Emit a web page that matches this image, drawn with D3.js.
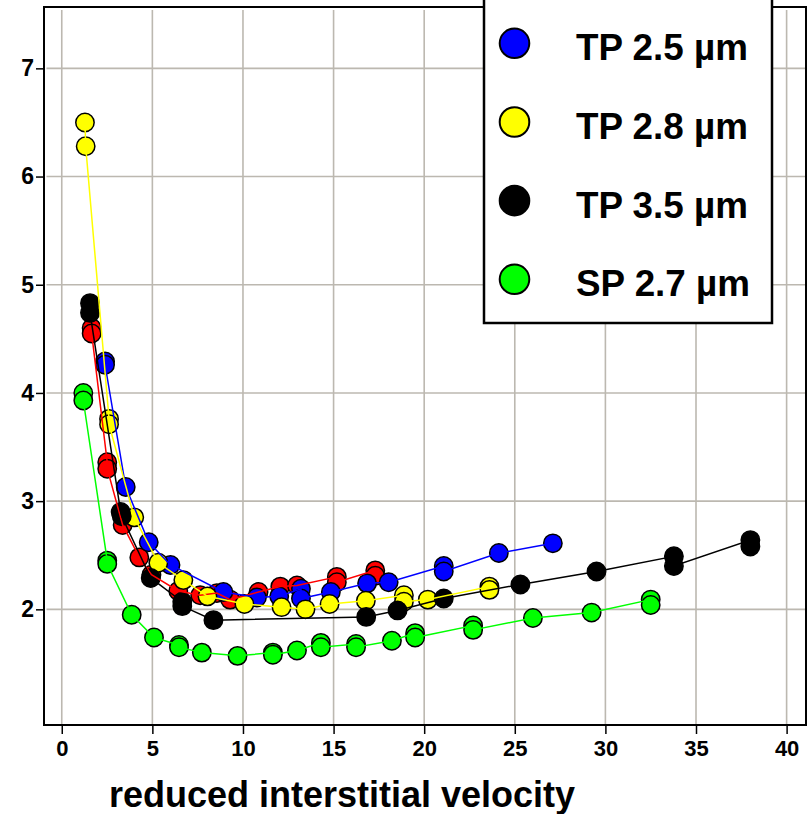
<!DOCTYPE html>
<html>
<head>
<meta charset="utf-8">
<script src="https://cdn.jsdelivr.net/npm/d3@7"></script>
<style>
  html, body { margin: 0; padding: 0; background: #fff; }
  svg { display: block; }
  text { font-family: "Liberation Sans", Arial, sans-serif; font-weight: bold; fill: #000; }
</style>
</head>
<body>
<svg id="chart" width="812" height="814"></svg>
<script>
// ---------------- DATA ----------------
const xTicks = [0, 5, 10, 15, 20, 25, 30, 35, 40];
const yTicks = [2, 3, 4, 5, 6, 7];
const xTitle = "reduced interstitial velocity";

const seriesNames  = ["TP 2.5 µm", "TP 2.8 µm", "TP 3.5 µm", "SP 2.7 µm"];
const seriesColors = ["#0000ff", "#ffff00", "#000000", "#00ff00"];

// red series (legend entry cut off at top of picture)
const redX = [1.65, 1.65, 2.51, 2.51, 3.36, 4.28, 4.95, 6.43, 7.64, 8.56, 9.29, 10.86, 12.06, 12.98, 15.18, 15.18, 17.3, 17.3];
const redY = [4.60, 4.55, 3.36, 3.30, 2.78, 2.48, 2.32, 2.17, 2.13, 2.15, 2.09, 2.16, 2.21, 2.22, 2.30, 2.25, 2.36, 2.31];

// TP 2.5 µm (blue)
const blueX = [2.39, 2.39, 3.53, 4.80, 6.00, 8.92, 10.77, 12.0, 13.2, 13.2, 14.85, 16.85, 18.04, 21.08, 21.08, 24.12, 27.1];
const blueY = [4.29, 4.26, 3.13, 2.62, 2.41, 2.16, 2.11, 2.12, 2.19, 2.10, 2.16, 2.24, 2.25, 2.40, 2.35, 2.52, 2.61];

// TP 2.8 µm (yellow)
const yellowX = [1.28, 1.32, 2.61, 2.61, 4.00, 5.33, 6.71, 8.04, 10.08, 12.13, 13.45, 14.78, 16.78, 18.88, 18.88, 20.2, 23.6, 23.6];
const yellowY = [6.50, 6.28, 3.76, 3.71, 2.85, 2.43, 2.27, 2.12, 2.05, 2.02, 2.00, 2.05, 2.08, 2.13, 2.07, 2.09, 2.21, 2.18];

// TP 3.5 µm (black)
const blackX = [1.56, 1.56, 3.25, 3.31, 4.91, 6.65, 6.65, 8.37, 16.8, 18.53, 21.08, 25.31, 29.51, 33.78, 33.78, 38.0, 38.0];
const blackY = [4.83, 4.74, 2.90, 2.86, 2.29, 2.07, 2.03, 1.90, 1.93, 1.99, 2.10, 2.23, 2.35, 2.49, 2.40, 2.64, 2.58];

// SP 2.7 µm (green)
const greenX = [1.19, 1.19, 2.51, 2.51, 3.86, 5.09, 6.47, 6.47, 7.73, 9.7, 11.65, 11.65, 12.98, 14.3, 14.3, 16.24, 16.24, 18.22, 19.5, 19.5, 22.7, 22.7, 26.0, 29.24, 32.5, 32.5];
const greenY = [4.00, 3.93, 2.45, 2.42, 1.95, 1.74, 1.67, 1.65, 1.60, 1.57, 1.60, 1.58, 1.62, 1.69, 1.65, 1.68, 1.65, 1.71, 1.78, 1.74, 1.85, 1.81, 1.92, 1.97, 2.09, 2.04];

// ---------------- CHART ----------------
const svg = d3.select("#chart");
const L = 44, R = 806, T = 7, B = 725;
const x = d3.scaleLinear().domain([-0.98, 41.07]).range([L, R]);
const y = d3.scaleLinear().domain([0.931, 7.567]).range([B, T]);

const gridColor = "#bcb8b0";
// gridlines
svg.append("g").selectAll("line.vg").data(xTicks).join("line")
  .attr("x1", d => x(d)).attr("x2", d => x(d))
  .attr("y1", T + 3).attr("y2", B)
  .attr("stroke", gridColor).attr("stroke-width", 1.6);
svg.append("g").selectAll("line.hg").data(yTicks).join("line")
  .attr("x1", L + 2.5).attr("x2", R)
  .attr("y1", d => y(d)).attr("y2", d => y(d))
  .attr("stroke", gridColor).attr("stroke-width", 1.6);

// axes
const xAxis = svg.append("g").attr("transform", `translate(0,${B})`)
  .call(d3.axisBottom(x).tickValues(xTicks).tickSize(9).tickPadding(6).tickFormat(d3.format("d")));
xAxis.select(".domain").remove();
xAxis.selectAll("line").attr("stroke", "#000").attr("stroke-width", 1.5);
xAxis.selectAll("text").style("font-size", "22px").style("font-family", "Liberation Sans, Arial, sans-serif").style("font-weight", "bold").attr("fill", "#000");

const yAxis = svg.append("g").attr("transform", `translate(${L},0)`)
  .call(d3.axisLeft(y).tickValues(yTicks).tickSize(8).tickPadding(2).tickFormat(d3.format("d")));
yAxis.select(".domain").remove();
yAxis.selectAll("line").attr("stroke", "#000").attr("stroke-width", 1.5);
yAxis.selectAll("text").style("font-size", "23px").style("font-family", "Liberation Sans, Arial, sans-serif").style("font-weight", "bold").attr("fill", "#000");

// frame
svg.append("rect").attr("x", L).attr("y", T).attr("width", R - L).attr("height", B - T)
  .attr("fill", "none").attr("stroke", "#000").attr("stroke-width", 2);

// axis title
svg.append("text").attr("x", 342).attr("y", 807).attr("text-anchor", "middle")
  .style("font-size", "36px").text(xTitle);

// series
const series = [
  { xs: redX, ys: redY, color: "#ff0000" },
  { xs: blueX, ys: blueY, color: seriesColors[0] },
  { xs: yellowX, ys: yellowY, color: seriesColors[1] },
  { xs: blackX, ys: blackY, color: seriesColors[2] },
  { xs: greenX, ys: greenY, color: seriesColors[3] }
];

const plot = svg.append("g");
// circles first
series.forEach(s => {
  const pts = s.xs.map((v, i) => [v, s.ys[i]]);
  plot.append("g").selectAll("circle").data(pts).join("circle")
    .attr("cx", d => x(d[0])).attr("cy", d => y(d[1])).attr("r", 9.2)
    .attr("fill", s.color).attr("stroke", "#000").attr("stroke-width", 1.5);
});
// lines on top
const line = d3.line().x(d => x(d[0])).y(d => y(d[1]));
series.forEach(s => {
  const pts = s.xs.map((v, i) => [v, s.ys[i]]);
  plot.append("path").datum(pts).attr("d", line)
    .attr("fill", "none").attr("stroke", s.color).attr("stroke-width", 1.5);
});

// legend
const lg = svg.append("g");
lg.append("rect").attr("x", 484).attr("y", -60).attr("width", 288).attr("height", 383)
  .attr("fill", "#fff").attr("stroke", "#000").attr("stroke-width", 2.5);
const legY = d3.scaleLinear().domain([0, 3]).range([43.3, 279.3]);
seriesNames.forEach((n, i) => {
  lg.append("circle").attr("cx", 514.5).attr("cy", legY(i)).attr("r", 14.8)
    .attr("fill", seriesColors[i]).attr("stroke", "#000").attr("stroke-width", 2);
  lg.append("text").attr("x", 576).attr("y", legY(i) + 17)
    .style("font-size", "36.8px").text(n);
});
</script>
</body>
</html>
